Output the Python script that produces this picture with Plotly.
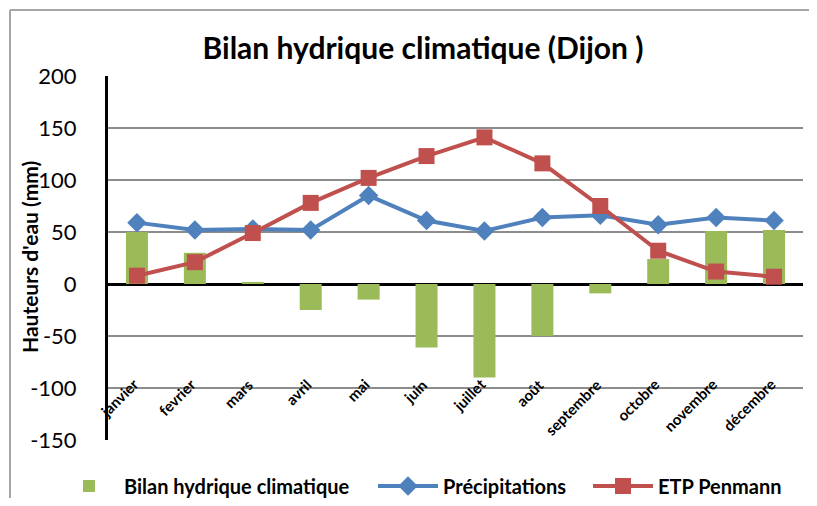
import plotly.graph_objects as go

months = ["janvier", "fevrier", "mars", "avril", "mai", "juin", "juillet",
          "août", "septembre", "octobre", "novembre", "décembre"]
bilan = [50, 30, 2, -25, -15, -61, -90, -50, -9, 24, 51, 52]
precipitations = [59, 52, 53, 52, 85, 61, 51, 64, 66, 57, 64, 61]
etp_penmann = [8, 21, 49, 78, 102, 123, 141, 116, 75, 32, 12, 7]
y_ticks = [-150, -100, -50, 0, 50, 100, 150, 200]
y_ticktext = [str(v) for v in y_ticks]

FONT = "Lato, 'Open Sans', sans-serif"
GREEN = "#9BBB59"
BLUE = "#4F81BD"
RED = "#C0504D"

# The page body has an 8px margin, so the figure is drawn offset by 8px.
OFF = 8
W, H = 817 - 2 * OFF, 506 - 2 * OFF
# plot area in screen pixels
X0, X1, Y0, Y1 = 108, 803, 76, 440
L, R, T, B = X0 - OFF, W - (X1 - OFF), Y0 - OFF, H - (Y1 - OFF)
PW, PH = X1 - X0, Y1 - Y0


def px(xs):
    return (xs - X0) / PW


def py(ys):
    return (Y1 - ys) / PH


fig = go.Figure()
fig.add_trace(go.Bar(x=months, y=bilan, name="<b>Bilan hydrique climatique</b>",
                     marker=dict(color=GREEN, line=dict(width=0)), width=0.38,
                     legend="legend"))
fig.add_trace(go.Scatter(x=months, y=precipitations, name="<b>Précipitations</b>",
                         mode="lines+markers",
                         line=dict(color=BLUE, width=4),
                         marker=dict(symbol="diamond", size=15, color=BLUE),
                         legend="legend2"))
fig.add_trace(go.Scatter(x=months, y=etp_penmann, name="<b>ETP Penmann</b>",
                         mode="lines+markers",
                         line=dict(color=RED, width=4),
                         marker=dict(symbol="square", size=16, color=RED),
                         legend="legend3"))

annotations = []
for m in months:
    annotations.append(dict(x=m, y=-85, xref="x", yref="y", text="<b>" + m + "</b>",
                            textangle=-45, showarrow=False, xanchor="right", yanchor="top",
                            xshift=7, font=dict(family=FONT, size=15, color="black")))
annotations.append(dict(x=px(29), y=py(257), xref="paper", yref="paper",
                        text="<b>Hauteurs d'eau (mm)</b>",
                        textangle=-90, showarrow=False, xanchor="center", yanchor="middle",
                        font=dict(family=FONT, size=21, color="black")))


def leg(x_screen):
    return dict(orientation="h", x=px(x_screen), xanchor="left",
                y=py(486), yanchor="middle", itemwidth=60,
                font=dict(family=FONT, size=20, color="black"), bgcolor="rgba(0,0,0,0)")


fig.update_layout(
    width=W, height=H,
    margin=dict(l=L, r=R, t=T, b=B, autoexpand=False),
    paper_bgcolor="white", plot_bgcolor="white",
    font=dict(family=FONT, color="black"),
    title=dict(text="<b>Bilan hydrique climatique (Dijon )</b>", x=(423 - OFF) / W,
               xref="container", xanchor="center", y=1 - (48 - OFF) / H, yref="container",
               yanchor="middle", font=dict(family=FONT, size=30, color="black")),
    xaxis=dict(showticklabels=False, showgrid=False, showline=False, ticks="",
               range=[-0.5, 11.5], automargin=False),
    yaxis=dict(range=[-150, 200], tickvals=y_ticks, ticktext=y_ticktext, showgrid=True,
               gridcolor="#8C8C8C", gridwidth=1.5, zeroline=True, zerolinecolor="black",
               zerolinewidth=3, showline=True, linecolor="black", linewidth=3, ticks="",
               automargin=False, ticklabelstandoff=24,
               tickfont=dict(family=FONT, size=22, color="black")),
    legend=leg(124 - 70),
    legend2=leg(443 - 70),
    legend3=leg(658 - 70),
    annotations=annotations,
    showlegend=True,
)

fig.add_shape(type="line", xref="paper", yref="paper", x0=px(10), x1=px(10),
              y0=py(10), y1=py(520), line=dict(color="#A6A6A6", width=2))
fig.add_shape(type="line", xref="paper", yref="paper", x0=px(10), x1=px(830),
              y0=py(10), y1=py(10), line=dict(color="#A6A6A6", width=2))

fig.write_html("out.html")
